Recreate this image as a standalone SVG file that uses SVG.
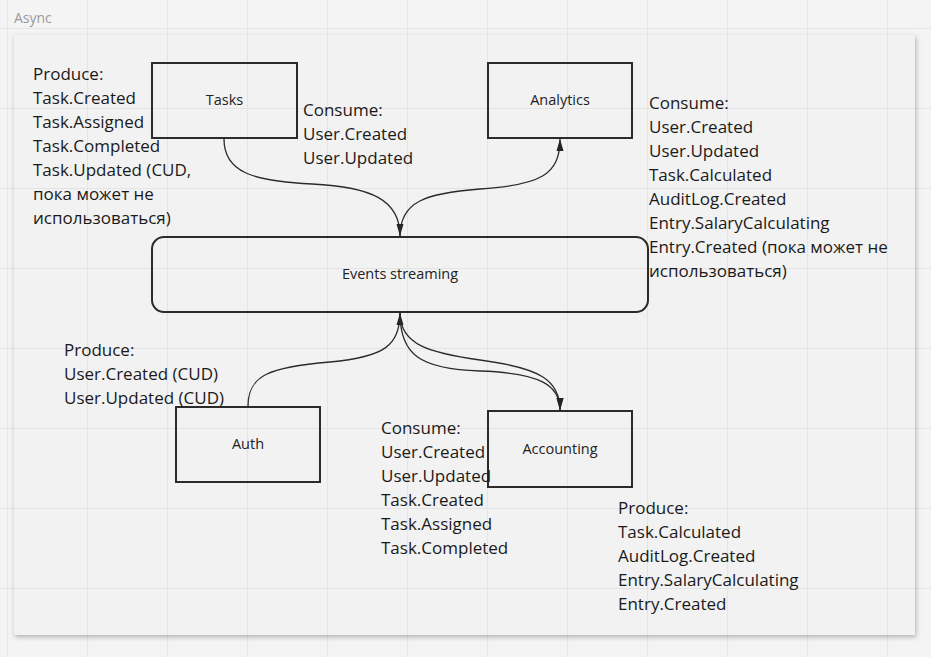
<svg xmlns="http://www.w3.org/2000/svg" width="931" height="657" viewBox="0 0 931 657">
  <defs>
    <pattern id="grid" x="7" y="28" width="80" height="80" patternUnits="userSpaceOnUse">
      <path d="M0.5 0 V80 M0 0.5 H80" fill="none" stroke="#000" stroke-opacity="0.06" stroke-width="1.2"/>
    </pattern>
    <filter id="frameShadow" x="-5%" y="-5%" width="110%" height="110%">
      <feDropShadow dx="1" dy="2" stdDeviation="2.5" flood-color="#000" flood-opacity="0.28"/>
    </filter>
    <marker id="arrow" viewBox="0 0 12 8" refX="12" refY="4" markerWidth="12" markerHeight="8" markerUnits="userSpaceOnUse" orient="auto">
      <path d="M0 0.5 L12 4 L0 7.5 Z" fill="#222"/>
    </marker>
    <style>
      .box { fill: none; stroke: #2b2b2b; stroke-width: 2; }
      .label { font-family: "Open Sans", "Noto Sans", sans-serif; font-size: 14.5px; fill: #222; text-anchor: middle; dominant-baseline: central; }
      .note { font-family: "Open Sans", "Noto Sans", sans-serif; font-size: 17px; fill: #1a1a1a; }
      .edge { fill: none; stroke: #2b2b2b; stroke-width: 1.3; marker-end: url(#arrow); }
      .title { font-family: "Open Sans", "Noto Sans", sans-serif; font-size: 14px; fill: #9a9a9a; }
    </style>
  </defs>

  <!-- canvas -->
  <rect x="0" y="0" width="931" height="657" fill="#f4f4f4"/>
  <rect x="14" y="35" width="901" height="600" fill="#f2f2f2" filter="url(#frameShadow)"/>
  <rect x="0" y="0" width="931" height="657" fill="url(#grid)"/>
  <text class="title" x="14" y="23">Async</text>

  <!-- connectors -->
  <g id="connectors">
    <path class="edge" d="M224 139 C224 172 252 181 312 184 C372 187 400 200 400 236"/>
    <path class="edge" d="M400 236 C400 202 425 193 480 189 C540 185 560 175 560 139"/>
    <path class="edge" d="M248 406 C248 375 270 367 330 362 C385 357 400 345 400 313"/>
    <path class="edge" d="M400 313 C400 345 430 353 480 360 C540 368 560 380 560 410"/>
    <path class="edge" d="M400 313 C400 355 420 369 480 371 C540 373 560 385 560 410"/>
  </g>

  <!-- nodes -->
  <g id="tasks">
    <rect class="box" x="152" y="63" width="145" height="75"/>
    <text class="label" x="224.5" y="99">Tasks</text>
  </g>
  <g id="analytics">
    <rect class="box" x="488" y="63" width="144" height="75"/>
    <text class="label" x="560" y="99">Analytics</text>
  </g>
  <g id="events-streaming">
    <rect class="box" x="152" y="237" width="496" height="75" rx="12" ry="12"/>
    <text class="label" x="400" y="273">Events streaming</text>
  </g>
  <g id="auth">
    <rect class="box" x="176" y="407" width="144" height="75"/>
    <text class="label" x="248" y="443">Auth</text>
  </g>
  <g id="accounting">
    <rect class="box" x="488" y="411" width="144" height="76"/>
    <text class="label" x="560" y="448">Accounting</text>
  </g>

  <!-- event notes -->
  <g id="tasks-produce">
    <text class="note">
      <tspan x="33" y="80">Produce:</tspan>
      <tspan x="33" y="104">Task.Created</tspan>
      <tspan x="33" y="128">Task.Assigned</tspan>
      <tspan x="33" y="152">Task.Completed</tspan>
      <tspan x="33" y="176">Task.Updated (CUD,</tspan>
      <tspan x="33" y="200">пока может не</tspan>
      <tspan x="33" y="224">использоваться)</tspan>
    </text>
  </g>
  <g id="tasks-consume">
    <text class="note">
      <tspan x="303" y="116">Consume:</tspan>
      <tspan x="303" y="140">User.Created</tspan>
      <tspan x="303" y="164">User.Updated</tspan>
    </text>
  </g>
  <g id="analytics-consume">
    <text class="note">
      <tspan x="649" y="109">Consume:</tspan>
      <tspan x="649" y="133">User.Created</tspan>
      <tspan x="649" y="157">User.Updated</tspan>
      <tspan x="649" y="181">Task.Calculated</tspan>
      <tspan x="649" y="205">AuditLog.Created</tspan>
      <tspan x="649" y="229">Entry.SalaryCalculating</tspan>
      <tspan x="649" y="253">Entry.Created (пока может не</tspan>
      <tspan x="649" y="277">использоваться)</tspan>
    </text>
  </g>
  <g id="auth-produce">
    <text class="note">
      <tspan x="64" y="356">Produce:</tspan>
      <tspan x="64" y="380">User.Created (CUD)</tspan>
      <tspan x="64" y="404">User.Updated (CUD)</tspan>
    </text>
  </g>
  <g id="accounting-consume">
    <text class="note">
      <tspan x="381" y="434">Consume:</tspan>
      <tspan x="381" y="458">User.Created</tspan>
      <tspan x="381" y="482">User.Updated</tspan>
      <tspan x="381" y="506">Task.Created</tspan>
      <tspan x="381" y="530">Task.Assigned</tspan>
      <tspan x="381" y="554">Task.Completed</tspan>
    </text>
  </g>
  <g id="accounting-produce">
    <text class="note">
      <tspan x="618" y="514">Produce:</tspan>
      <tspan x="618" y="538">Task.Calculated</tspan>
      <tspan x="618" y="562">AuditLog.Created</tspan>
      <tspan x="618" y="586">Entry.SalaryCalculating</tspan>
      <tspan x="618" y="610">Entry.Created</tspan>
    </text>
  </g>
</svg>
